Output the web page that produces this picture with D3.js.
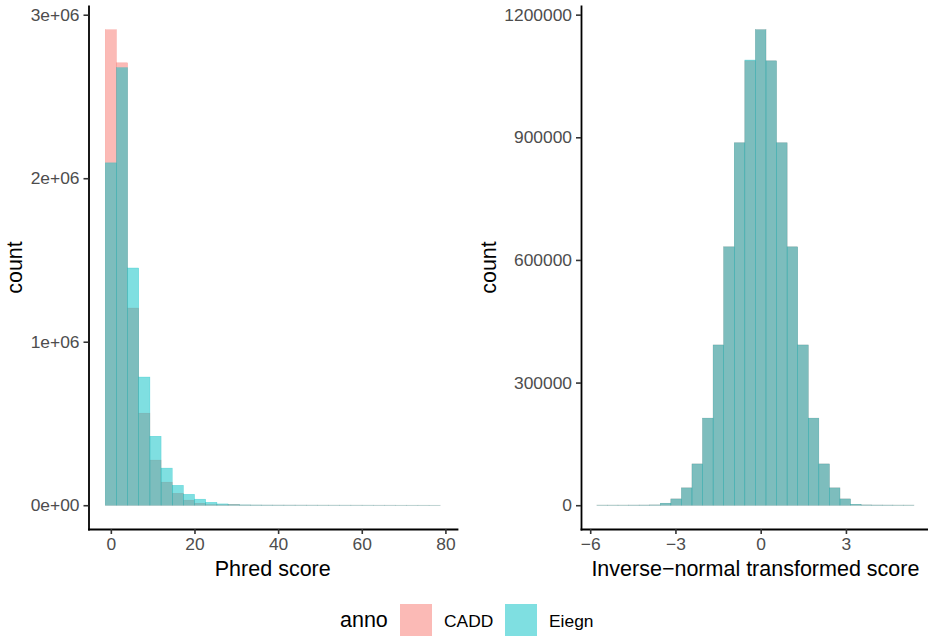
<html>

<head>
  <meta charset="UTF-8">
  <script src="https://d3js.org/d3.v7.min.js"></script>
  <style>
    body { margin: 0; background: #fff; }
    text { font-family: "Liberation Sans", Arial, sans-serif; }
  </style>
</head>

<body>
  <svg id="chart" width="928" height="637"></svg>

  <script>
    // Left panel: Phred score histogram, 30 bins of width 2.67 centred on 0
    const phredBinWidth = 2.67;
    const phredBins = d3.range( 30 ).map( i => i * phredBinWidth );
    const phredCADD = [ 2908000, 2706000, 1206000, 563000, 276000, 141000, 73000, 31000, 12000, 4000,
      2500, 6000, 1500, 1200, 1000, 900, 800, 700, 600, 500,
      500, 400, 400, 300, 300, 300, 200, 200, 200, 100 ];
    const phredEiegn = [ 2094000, 2676000, 1451000, 784000, 422000, 227000, 122000, 67000, 37000, 18000,
      8000, 4000, 2000, 1500, 1200, 1000, 900, 800, 700, 600,
      500, 500, 400, 400, 300, 300, 200, 200, 200, 100 ];
    const phredXTicks = [ 0, 20, 40, 60, 80 ];
    const phredYTicks = [ 0, 1e6, 2e6, 3e6 ];
    const phredYLabels = [ "0e+00", "1e+06", "2e+06", "3e+06" ];

    // Right panel: inverse-normal transformed score, 30 bins of width 0.372
    const invBinWidth = 0.372;
    const invBins = d3.range( -15, 15 ).map( k => k * invBinWidth );
    const invCADD = [ 300, 300, 300, 400, 500, 700, 4900, 15400, 42400, 101000,
      213000, 392000, 632000, 886500, 1087000, 1163000, 1087000, 886500, 632000, 392000,
      213000, 101000, 42400, 15400, 2400, 700, 500, 400, 300, 300 ];
    const invEiegn = [ 300, 300, 300, 400, 500, 700, 4900, 15400, 42400, 101000,
      213000, 392000, 632000, 886500, 1089000, 1163000, 1087000, 886500, 632000, 392000,
      213000, 101000, 42400, 15400, 2400, 700, 500, 400, 300, 300 ];
    const invXTicks = [ -6, -3, 0, 3 ];
    const invYTicks = [ 0, 300000, 600000, 900000, 1200000 ];

    const annoNames = [ "CADD", "Eiegn" ];
    const annoColors = [ "#F8766D", "#00BFC4" ];

    const svg = d3.select( "#chart" );
    const panelTop = 6, panelBottom = 529;

    function panel( opt ) {
      const w = opt.binWidth;
      const lo = opt.bins[ 0 ] - w / 2, hi = opt.bins[ opt.bins.length - 1 ] + w / 2;
      const padX = ( hi - lo ) * 0.05;
      const x = d3.scaleLinear().domain( [ lo - padX, hi + padX ] ).range( [ opt.left, opt.right ] );
      const maxY = d3.max( opt.series.flat() );
      const y = d3.scaleLinear().domain( [ -maxY * 0.05, maxY * 1.05 ] ).range( [ panelBottom, panelTop ] );

      const g = svg.append( "g" );

      // bars, CADD first then Eiegn over it
      opt.series.forEach( ( vals, s ) => {
        g.append( "g" )
          .selectAll( "rect" )
          .data( opt.bins.map( ( c, i ) => ( { c: c, v: vals[ i ] } ) ) )
          .enter()
          .append( "rect" )
          .attr( "x", d => x( d.c - w / 2 ) )
          .attr( "width", d => x( d.c + w / 2 ) - x( d.c - w / 2 ) )
          .attr( "y", d => y( d.v ) )
          .attr( "height", d => y( 0 ) - y( d.v ) )
          .attr( "fill", annoColors[ s ] )
          .attr( "fill-opacity", 0.5 )
          .attr( "stroke", annoColors[ s ] )
          .attr( "stroke-opacity", 0.5 )
          .attr( "stroke-width", 0.45 );
      } );

      // axes
      const xAxis = g.append( "g" )
        .attr( "transform", "translate(0," + panelBottom + ")" )
        .call( d3.axisBottom( x ).tickValues( opt.xTicks ).tickFormat( d => d < 0 ? "\u2212" + Math.abs( d ) : d )
          .tickSize( 5 ).tickPadding( 4 ).tickSizeOuter( 0 ) );
      const yAxis = g.append( "g" )
        .attr( "transform", "translate(" + opt.left + ",0)" )
        .call( d3.axisLeft( y ).tickValues( opt.yTicks ).tickFormat( ( d, i ) => opt.yLabels ? opt.yLabels[ i ] : d )
          .tickSize( 5 ).tickPadding( 4 ).tickSizeOuter( 0 ) );

      [ xAxis, yAxis ].forEach( a => {
        a.select( ".domain" ).attr( "stroke", "#000" ).attr( "stroke-width", 1.8 ).attr( "stroke-linecap", "square" );
        a.selectAll( ".tick line" ).attr( "stroke", "#333333" ).attr( "stroke-width", 1.6 );
        a.selectAll( ".tick text" ).attr( "fill", "#4D4D4D" ).style( "font-size", "17.4px" )
          .style( "font-family", "'Liberation Sans', Arial, sans-serif" );
      } );

      // titles
      g.append( "text" )
        .attr( "x", ( opt.left + opt.right ) / 2 )
        .attr( "y", 576 )
        .attr( "text-anchor", "middle" )
        .style( "font-size", "21.5px" )
        .text( opt.xTitle );
      g.append( "text" )
        .attr( "transform", "translate(" + opt.yTitleX + "," + ( panelTop + panelBottom ) / 2 + ") rotate(-90)" )
        .attr( "text-anchor", "middle" )
        .style( "font-size", "21.5px" )
        .text( "count" );
    }

    panel( {
      bins: phredBins, binWidth: phredBinWidth, series: [ phredCADD, phredEiegn ],
      left: 88.5, right: 457, xTicks: phredXTicks, yTicks: phredYTicks, yLabels: phredYLabels,
      xTitle: "Phred score", yTitleX: 22
    } );

    panel( {
      bins: invBins, binWidth: invBinWidth, series: [ invCADD, invEiegn ],
      left: 581, right: 929.8, xTicks: invXTicks, yTicks: invYTicks, yLabels: null,
      xTitle: "Inverse\u2212normal transformed score", yTitleX: 496
    } );

    // Legend
    const legend = svg.append( "g" );
    legend.append( "text" )
      .attr( "x", 340 ).attr( "y", 627 )
      .style( "font-size", "21.5px" )
      .text( "anno" );
    const keyX = [ 400, 505 ];
    annoNames.forEach( ( name, i ) => {
      legend.append( "rect" )
        .attr( "x", keyX[ i ] ).attr( "y", 604 )
        .attr( "width", 32 ).attr( "height", 32 )
        .attr( "fill", annoColors[ i ] ).attr( "fill-opacity", 0.5 );
      legend.append( "text" )
        .attr( "x", keyX[ i ] + 44 ).attr( "y", 626.5 )
        .style( "font-size", "17.4px" )
        .text( name );
    } );
  </script>

</body>

</html>
